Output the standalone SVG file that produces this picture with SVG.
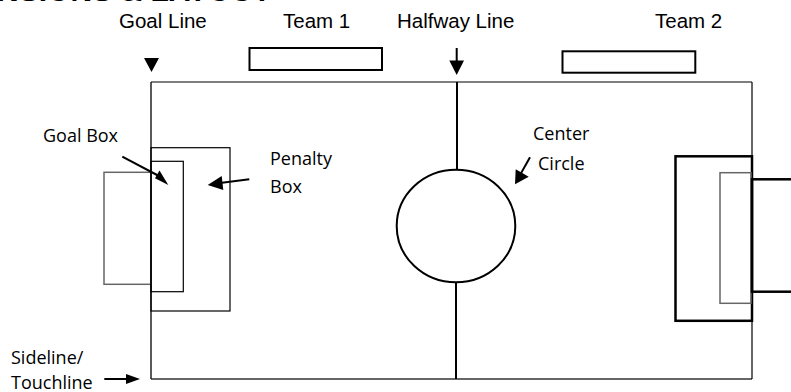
<svg xmlns="http://www.w3.org/2000/svg" width="791" height="392" viewBox="0 0 791 392">
<style>
.a{font-family:"Liberation Sans",Arial,sans-serif;font-size:20.5px;fill:#000}
.c{font-family:"Open Sans","Noto Sans",sans-serif;font-size:18px;fill:#000}
.t{font-family:"Liberation Sans",Arial,sans-serif;font-size:30px;font-weight:bold;fill:#000}
.k{fill:none;stroke:#000}
.g{fill:none;stroke:#666}
.ln{stroke:#000;stroke-width:2;fill:none}
</style>
<rect width="791" height="392" fill="#fff"/>
<text class="t" x="271" y="0.5" text-anchor="end">DIMENSIONS &amp; LAYOUT</text>
<g id="field">
<line x1="151" y1="82" x2="752" y2="82" stroke="#555" stroke-width="1.5"/>
<line x1="151" y1="379" x2="752" y2="379" stroke="#666" stroke-width="2"/>
<line x1="151" y1="82" x2="151" y2="379" stroke="#000" stroke-width="1.3"/>
<line x1="752" y1="82" x2="752" y2="379" stroke="#000" stroke-width="1.2"/>
</g>
<g id="halfway-line">
<line x1="457" y1="82" x2="457" y2="170" stroke="#000" stroke-width="2"/>
<line x1="456" y1="282" x2="456" y2="379" stroke="#000" stroke-width="2"/>
</g>
<g id="center-circle"><ellipse cx="456" cy="226" rx="59.3" ry="56.3" fill="none" stroke="#000" stroke-width="2"/></g>
<g id="left-goal"><rect x="104" y="172.3" width="47" height="112" class="g" stroke-width="1.5"/></g>
<g id="left-penalty-box"><rect x="151" y="147.7" width="79" height="163.3" class="k" stroke-width="1.2"/></g>
<g id="left-goal-box"><rect x="151" y="161.3" width="32.3" height="130.4" class="k" stroke-width="1.2"/></g>
<g id="right-penalty-box"><rect x="675.5" y="156.3" width="76.5" height="164.5" class="k" stroke-width="2.5"/></g>
<g id="right-goal-box"><rect x="720" y="172.7" width="31" height="130.6" class="g" stroke-width="1.5"/></g>
<g id="right-goal"><rect x="752" y="179.3" width="60" height="112.4" class="k" stroke-width="2.5"/></g>
<g id="team1"><rect x="249.5" y="48" width="132.5" height="22" class="k" stroke-width="2"/><text class="a" x="283" y="28">Team 1</text></g>
<g id="team2"><rect x="562.5" y="51.3" width="132.8" height="21.4" class="k" stroke-width="2"/><text class="a" x="655" y="28">Team 2</text></g>
<g id="labels">
<text class="a" x="119" y="28">Goal Line</text>
<text class="a" x="397" y="28">Halfway Line</text>
<text class="c" x="43" y="142">Goal Box</text>
<text class="c" x="270" y="165">Penalty</text>
<text class="c" x="270" y="193">Box</text>
<text class="c" x="533" y="140">Center</text>
<text class="c" x="538" y="170">Circle</text>
<text class="c" x="11" y="364">Sideline/</text>
<text class="c" x="11" y="389">Touchline</text>
</g>
<g id="connectors">
<polygon points="144,58 159,58 151.5,72" fill="#000"/>
<line x1="456.7" y1="48" x2="456.7" y2="62" class="ln" stroke-width="1.6"/>
<polygon points="449.3,60.5 464,60.5 456.7,75" fill="#000"/>
<line x1="122.3" y1="156.7" x2="158" y2="175.5" class="ln"/>
<polygon points="155,178.3 159.5,170.5 168.3,185" fill="#000"/>
<line x1="249.3" y1="179.3" x2="220" y2="183" class="ln"/>
<polygon points="207.7,185 221.7,176 223.3,190" fill="#000"/>
<line x1="530" y1="157.3" x2="520" y2="175" class="ln"/>
<polygon points="515,184.3 515.7,169.3 528.7,176.7" fill="#000"/>
<line x1="104.3" y1="379" x2="128" y2="379" class="ln"/>
<polygon points="126,374 126,384 140,379" fill="#000"/>
</g>
</svg>
